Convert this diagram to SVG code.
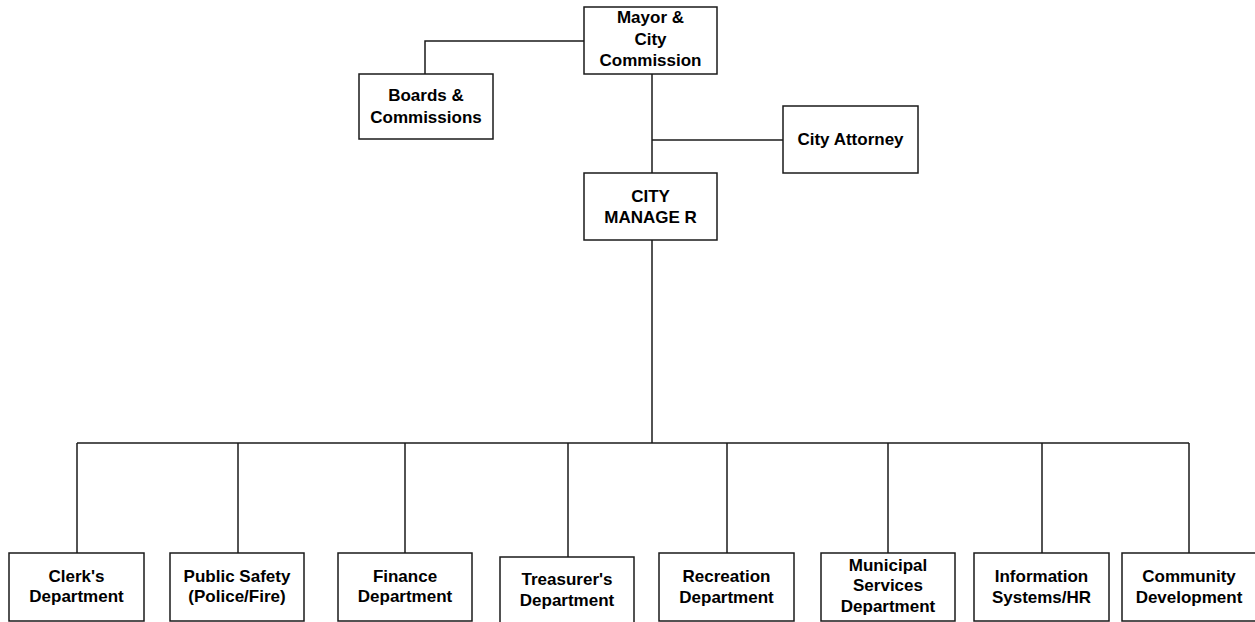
<svg xmlns="http://www.w3.org/2000/svg" width="1255" height="622" viewBox="0 0 1255 622">
<style>
rect{fill:#fff;stroke:#1a1a1a;stroke-width:1.5}
.c line,.c path{stroke:#1a1a1a;stroke-width:1.5;fill:none}
text{font-family:"Liberation Sans",Arial,sans-serif;font-weight:bold;font-size:17px;fill:#000;text-anchor:middle}
</style>
<rect x="0" y="0" width="1255" height="622" style="stroke:none"/>
<g class="c" id="connectors">
<path d="M584,41H425V74"/>
<line x1="652" y1="74" x2="652" y2="173"/>
<line x1="652" y1="140" x2="783" y2="140"/>
<line x1="652" y1="240" x2="652" y2="443"/>
<line x1="77" y1="443" x2="1189" y2="443"/>
<line x1="77" y1="443" x2="77" y2="553"/>
<line x1="238" y1="443" x2="238" y2="553"/>
<line x1="405" y1="443" x2="405" y2="553"/>
<line x1="568" y1="443" x2="568" y2="557"/>
<line x1="727" y1="443" x2="727" y2="553"/>
<line x1="888" y1="443" x2="888" y2="553"/>
<line x1="1042" y1="443" x2="1042" y2="553"/>
<line x1="1189" y1="443" x2="1189" y2="553"/>
</g>
<g id="mayor"><rect x="584" y="7" width="133" height="67"/><text x="650.5" y="23">Mayor &amp;</text><text x="650.5" y="45">City</text><text x="650.5" y="66">Commission</text></g>
<g id="boards"><rect x="359" y="74" width="134" height="65"/><text x="426" y="101">Boards &amp;</text><text x="426" y="123">Commissions</text></g>
<g id="attorney"><rect x="783" y="106" width="135" height="67"/><text x="850.5" y="145">City Attorney</text></g>
<g id="manager"><rect x="584" y="173" width="133" height="67"/><text x="650.5" y="202">CITY</text><text x="650.5" y="223">MANAGE R</text></g>
<g id="clerk"><rect x="9" y="553" width="135" height="68"/><text x="76.5" y="582">Clerk's</text><text x="76.5" y="602">Department</text></g>
<g id="safety"><rect x="170" y="553" width="134" height="68"/><text x="237" y="582">Public Safety</text><text x="237" y="602">(Police/Fire)</text></g>
<g id="finance"><rect x="338" y="553" width="134" height="68"/><text x="405" y="582">Finance</text><text x="405" y="602">Department</text></g>
<g id="treasurer"><rect x="500" y="557" width="134" height="68"/><text x="567" y="585">Treasurer's</text><text x="567" y="606">Department</text></g>
<g id="recreation"><rect x="659" y="553" width="135" height="68"/><text x="726.5" y="582">Recreation</text><text x="726.5" y="603">Department</text></g>
<g id="municipal"><rect x="821" y="553" width="134" height="68"/><text x="888" y="571">Municipal</text><text x="888" y="591">Services</text><text x="888" y="612">Department</text></g>
<g id="info"><rect x="974" y="553" width="135" height="68"/><text x="1041.5" y="582">Information</text><text x="1041.5" y="603">Systems/HR</text></g>
<g id="community"><rect x="1122" y="553" width="134" height="68"/><text x="1189" y="582">Community</text><text x="1189" y="603">Development</text></g>
</svg>
